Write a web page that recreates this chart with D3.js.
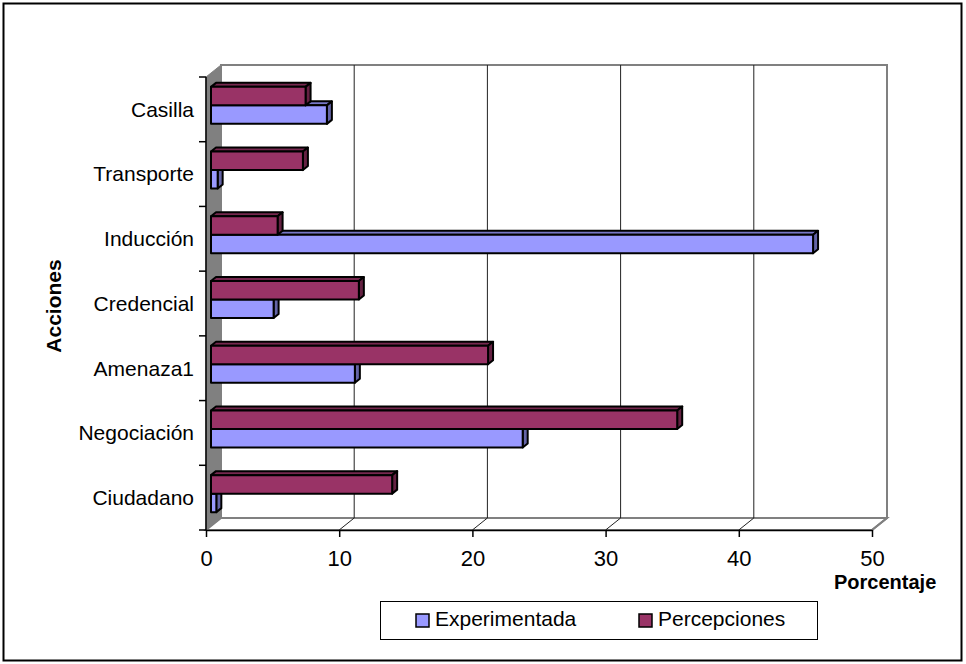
<!DOCTYPE html>
<html>
<head>
<meta charset="utf-8">
<script src="https://cdn.jsdelivr.net/npm/d3@7"></script>
<style>
  body { margin: 0; background: #fff; }
  text { font-family: Arial, 'Liberation Sans', sans-serif; fill: #000; }
</style>
</head>
<body>
<div id="chart"></div>
<script>
// Data (bottom to top, as drawn)
const categories = ['Ciudadano', 'Negociación', 'Amenaza1', 'Credencial', 'Inducción', 'Transporte', 'Casilla'];
const experimentada = [0.4, 23.4, 10.8, 4.7, 45.2, 0.5, 8.7];
const percepciones = [13.6, 35.0, 20.8, 11.1, 5.0, 6.9, 7.1];
const seriesNames = ['Experimentada', 'Percepciones'];
const seriesColors = ['#9999FF', '#993366'];
const xTicks = [0, 10, 20, 30, 40, 50];

const W = 966, H = 664;
// 3D depth of the plot box and of the bars
const depth = { dx: 15, dy: -12 };
const barOff = { dx: 5, dy: -4 };
const barDepth = { dx: 5, dy: -4 };

const svg = d3.select('#chart')
    .append('svg')
    .attr('width', W)
    .attr('height', H);

// outer frame
svg.append('rect')
    .attr('x', 3.5).attr('y', 3.5)
    .attr('width', W - 8).attr('height', H - 7)
    .attr('fill', '#fff')
    .attr('stroke', '#000')
    .attr('stroke-width', 2);

// Scales (front plane)
const x = d3.scaleLinear().domain([0, 50]).range([206, 872]);
const y = d3.scaleBand().domain(categories).range([530, 77]);
const yInner = d3.scaleBand()
    .domain(['Percepciones', 'Experimentada'])
    .range([0, y.bandwidth()])
    .paddingInner(0)
    .paddingOuter(0.75);

const x0 = x(0), xMax = x(50), yTop = 77, yBot = 530;

// back wall
svg.append('rect')
    .attr('x', x0 + depth.dx).attr('y', yTop + depth.dy)
    .attr('width', xMax - x0).attr('height', yBot - yTop)
    .attr('fill', '#fff')
    .attr('stroke', '#808080')
    .attr('stroke-width', 2);

// floor
svg.append('polygon')
    .attr('points', [
        [x0, yBot], [xMax, yBot],
        [xMax + depth.dx, yBot + depth.dy], [x0 + depth.dx, yBot + depth.dy]
    ].join(' '))
    .attr('fill', '#fff')
    .attr('stroke', '#808080')
    .attr('stroke-width', 2);

// left wall
svg.append('polygon')
    .attr('points', [
        [x0, yTop], [x0 + depth.dx, yTop + depth.dy],
        [x0 + depth.dx, yBot + depth.dy], [x0, yBot]
    ].join(' '))
    .attr('fill', '#808080')
    .attr('stroke', '#808080');

// gridlines on back wall + floor diagonals
const inner = xTicks.filter(d => d > 0 && d < 50);
svg.selectAll('.grid')
    .data(inner)
    .enter()
    .append('line')
    .attr('x1', d => x(d) + depth.dx).attr('x2', d => x(d) + depth.dx)
    .attr('y1', yTop + depth.dy).attr('y2', yBot + depth.dy)
    .attr('stroke', '#222')
    .attr('stroke-width', 1);

svg.selectAll('.diag')
    .data(xTicks.filter(d => d > 0))
    .enter()
    .append('line')
    .attr('x1', d => x(d)).attr('y1', yBot)
    .attr('x2', d => x(d) + depth.dx).attr('y2', yBot + depth.dy)
    .attr('stroke', d => d === 50 ? '#808080' : '#222')
    .attr('stroke-width', d => d === 50 ? 2 : 1);

// bars
const rows = categories.map((c, i) => ({
    category: c,
    values: [
        { name: 'Experimentada', value: experimentada[i], color: seriesColors[0] },
        { name: 'Percepciones', value: percepciones[i], color: seriesColors[1] }
    ]
}));

const barG = svg.append('g');
rows.forEach(r => {
    // draw lower bar first so the upper bar covers its top face
    r.values.forEach(v => {
        const xl = x(0) + barOff.dx;
        const xr = x(v.value) + barOff.dx;
        const yt = y(r.category) + yInner(v.name) + barOff.dy;
        const yb = yt + yInner.bandwidth();
        const c = d3.color(v.color);
        const g = barG.append('g')
            .attr('stroke', '#000')
            .attr('stroke-width', 2)
            .attr('stroke-linejoin', 'round');
        g.append('polygon')
            .attr('points', [[xl, yt], [xr, yt], [xr + barDepth.dx, yt + barDepth.dy], [xl + barDepth.dx, yt + barDepth.dy]].join(' '))
            .attr('fill', c.darker(0.7));
        g.append('polygon')
            .attr('points', [[xr, yt], [xr + barDepth.dx, yt + barDepth.dy], [xr + barDepth.dx, yb + barDepth.dy], [xr, yb]].join(' '))
            .attr('fill', c.darker(1.2));
        g.append('rect')
            .attr('x', xl).attr('y', yt)
            .attr('width', xr - xl).attr('height', yb - yt)
            .attr('fill', v.color);
    });
});

// X axis
const xAxis = svg.append('g')
    .attr('transform', `translate(0,${yBot})`)
    .call(d3.axisBottom(x).tickValues(xTicks).tickSize(7).tickSizeOuter(0).tickPadding(13));
xAxis.select('.domain').attr('stroke', '#000').attr('stroke-width', 1.5);
xAxis.selectAll('line').attr('stroke', '#000').attr('stroke-width', 1.5);
xAxis.selectAll('text')
    .attr('font-size', '22px')
    .attr('font-family', "Arial, 'Liberation Sans', sans-serif")
    .attr('fill', '#000');

// Y axis: line, boundary ticks, labels
svg.append('line')
    .attr('x1', x0).attr('x2', x0)
    .attr('y1', yTop).attr('y2', yBot)
    .attr('stroke', '#000').attr('stroke-width', 1.5);

const bounds = categories.map(c => y(c)).concat([yBot]);
svg.selectAll('.ytick')
    .data(bounds)
    .enter()
    .append('line')
    .attr('x1', x0 - 7).attr('x2', x0)
    .attr('y1', d => d).attr('y2', d => d)
    .attr('stroke', '#000').attr('stroke-width', 1.5);

svg.selectAll('.ylabel')
    .data(categories)
    .enter()
    .append('text')
    .attr('x', 194)
    .attr('y', d => y(d) + y.bandwidth() / 2)
    .attr('dy', '0.35em')
    .attr('text-anchor', 'end')
    .attr('font-size', '21px')
    .text(d => d);

// axis titles
svg.append('text')
    .attr('transform', 'translate(61,306) rotate(-90)')
    .attr('text-anchor', 'middle')
    .attr('font-size', '21px')
    .attr('font-weight', 'bold')
    .text('Acciones');

svg.append('text')
    .attr('x', 834)
    .attr('y', 589)
    .attr('font-size', '20px')
    .attr('font-weight', 'bold')
    .text('Porcentaje');

// legend
const legend = svg.append('g');
legend.append('rect')
    .attr('x', 380.5).attr('y', 601.5)
    .attr('width', 437).attr('height', 38)
    .attr('fill', '#fff')
    .attr('stroke', '#000')
    .attr('stroke-width', 1);

const legendX = [416, 639];
seriesNames.forEach((name, i) => {
    legend.append('rect')
        .attr('x', legendX[i]).attr('y', 614)
        .attr('width', 13).attr('height', 13)
        .attr('fill', seriesColors[i])
        .attr('stroke', '#000')
        .attr('stroke-width', 1.5);
    legend.append('text')
        .attr('x', legendX[i] + 19)
        .attr('y', 626)
        .attr('font-size', '21px')
        .text(name);
});
</script>
</body>
</html>
